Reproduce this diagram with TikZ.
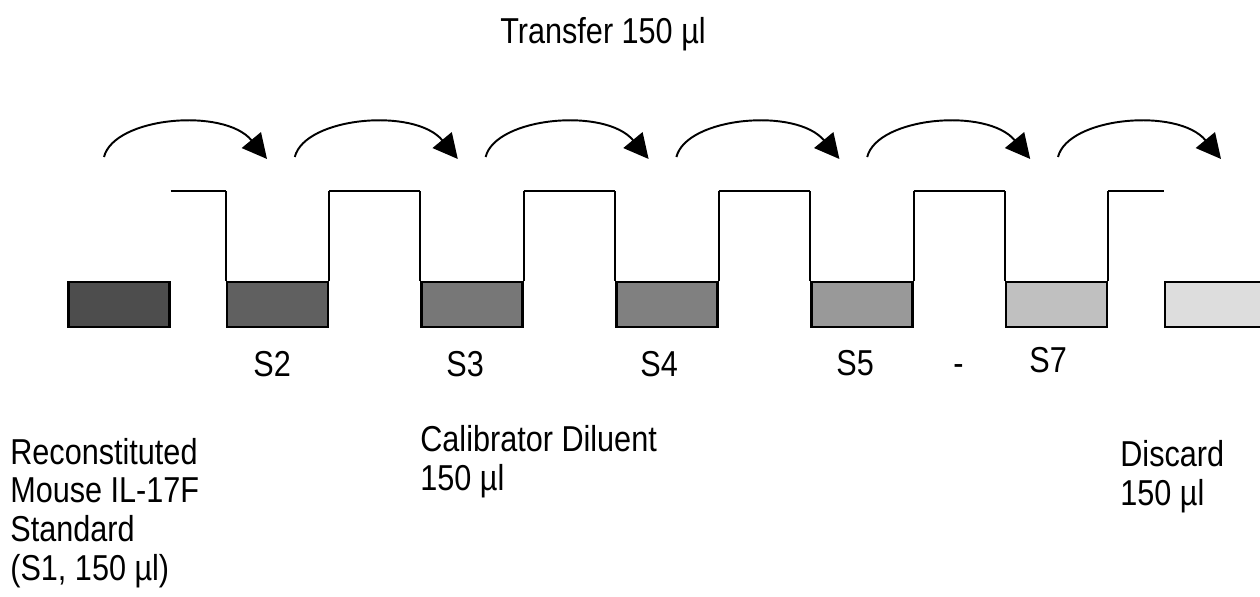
\documentclass[tikz,border=0pt]{standalone}
\usepackage{fontspec}
\setmainfont{Liberation Sans}[FakeStretch=0.85]
\usetikzlibrary{arrows.meta,positioning}
\definecolor{c1}{RGB}{77,77,77}
\definecolor{c2}{RGB}{96,96,96}
\definecolor{c3}{RGB}{119,119,119}
\definecolor{c4}{RGB}{128,128,128}
\definecolor{c5}{RGB}{153,153,153}
\definecolor{c6}{RGB}{192,192,192}
\definecolor{c7}{RGB}{221,221,221}
\tikzset{tube/.style={draw,line width=1.3pt,minimum width=2.02cm,minimum height=0.9cm,inner sep=0pt},
 wire/.style={line width=1.1pt},arr/.style={-{Triangle[length=14pt,width=14pt]},line width=1.1pt},
 lbl/.style={anchor=base west,inner sep=0pt,align=left},
 every node/.style={font=\fontsize{20.5}{22}\selectfont}}
\begin{document}
\begin{tikzpicture}[x=0.02cm,y=-0.02cm]
\useasboundingbox (0,0) rectangle (1260,597);
\node[tube,fill=c1] (s1) at (119,304.5) {};
\node[tube,fill=c2] (s2) at (277.5,304.5) {};
\node[tube,fill=c3] (s3) at (472,304.5) {};
\node[tube,fill=c4] (s4) at (667,304.5) {};
\node[tube,fill=c5] (s5) at (862,304.5) {};
\node[tube,fill=c6] (s6) at (1056.5,304.5) {};
\node[tube,fill=c7] (s7) at (1215.5,304.5) {};
\coordinate (top) at (0,191);
\foreach \a/\b in {1/2,2/3,3/4,4/5,5/6,6/7}
  \draw[wire] (s\a.north east |- top) -- (s\b.north west |- top);
\foreach \i in {2,...,6}
  \draw[wire] (s\i.north west) -- (s\i.north west |- top) (s\i.north east) -- (s\i.north east |- top);
\foreach \i in {1,...,6}{
  \pgfmathsetmacro\ax{104+190.8*(\i-1)}
  \coordinate (from\i) at (\ax,157);
  \coordinate (to\i) at (\ax+163,159);
  \draw[arr] (from\i) .. controls +(10,-40) and +(-43,-52) .. (to\i);
}
\node[lbl] (transfer) at (500,44) {Transfer 150 µl};
\node[lbl] (l2) at (253,377) {S2};
\node[lbl] (l3) at (446,377) {S3};
\node[lbl] (l4) at (640,377) {S4};
\node[lbl] (l5) at (836,376) {S5};
\node[lbl] (dash) at (953,376) {-};
\node[lbl] (l7) at (1029,373) {S7};
\node[lbl] (std) at (10,580) {Reconstituted\\Mouse IL-17F\\Standard\\(S1, 150 µl)};
\node[lbl] (dil) at (420,490) {Calibrator Diluent\\150 µl};
\node[lbl] (disc) at (1120,505) {Discard\\150 µl};
\end{tikzpicture}
\end{document}
